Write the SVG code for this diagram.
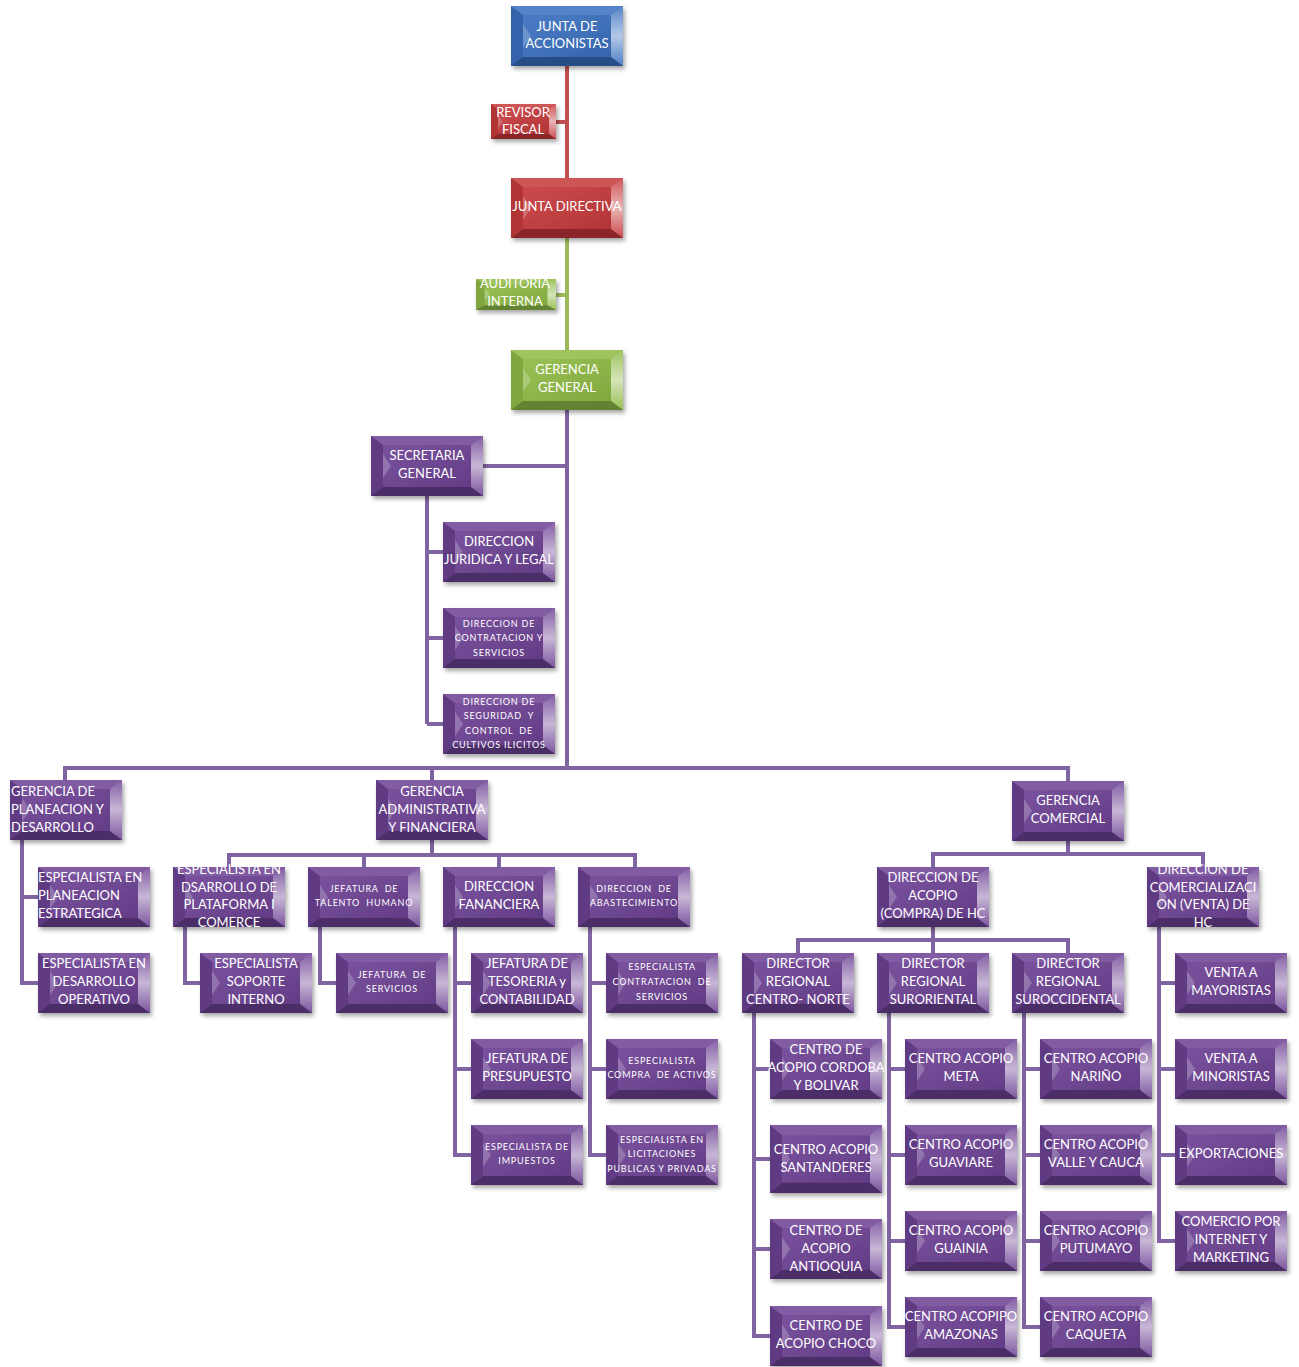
<svg xmlns="http://www.w3.org/2000/svg" xmlns:xlink="http://www.w3.org/1999/xlink" width="1299" height="1367" viewBox="0 0 1299 1367">
<style>
.bg{fill:#fff}
.c{fill:none;stroke-width:4;stroke-linejoin:miter}
.cr{stroke:#C0504D}.cg{stroke:#9BBB59}.cp{stroke:#8064A2}
.b{filter:url(#sh)}
.blue{color:#3A70BF}.red{color:#C63A3C}.green{color:#8FBA45}.pur{color:#6D4294}
.t{font-family:Lato,"Liberation Sans",sans-serif;font-size:13px;fill:#fff;text-anchor:middle}
.s{font-size:9px;letter-spacing:0.8px;white-space:pre}
.l{text-anchor:start}
</style>
<defs>
<filter id="sh" x="-10%" y="-10%" width="130%" height="140%">
<feDropShadow dx="2" dy="3" stdDeviation="2" flood-color="#000" flood-opacity="0.35"/>
</filter>
<linearGradient id="rg" x1="0" y1="0" x2="0" y2="1">
<stop offset="0" stop-color="#fff" stop-opacity="0.15"/>
<stop offset="0.5" stop-color="#fff" stop-opacity="0.62"/>
<stop offset="1" stop-color="#fff" stop-opacity="0.1"/>
</linearGradient>
<linearGradient id="fg" x1="0" y1="0" x2="1" y2="1">
<stop offset="0" stop-color="#fff" stop-opacity="0.08"/>
<stop offset="1" stop-color="#000" stop-opacity="0.1"/>
</linearGradient>
<symbol id="box" viewBox="0 0 112 60" preserveAspectRatio="none">
<rect x="0" y="0" width="112" height="60" fill="currentColor"/>
<rect x="12" y="9" width="88" height="42" fill="url(#fg)"/>
<polygon points="0,0 112,0 100,9 12,9" fill="#fff" fill-opacity="0.14"/>
<polygon points="0,60 112,60 100,51 12,51" fill="#000" fill-opacity="0.3"/>
<polygon points="0,0 12,9 12,51 0,60" fill="#000" fill-opacity="0.1"/>
<polygon points="12,18 20,30 12,42" fill="#fff" fill-opacity="0.22"/>
<polygon points="112,0 100,9 100,51 112,60" fill="url(#rg)"/>
</symbol>
</defs>
<rect class="bg" x="0" y="0" width="1299" height="1367"/>

<g id="connectors">
<path class="c cr" d="M567 66V178M556 122H567"/>
<path class="c cg" d="M567 238V350M556 295H567"/>
<path class="c cp" d="M567 410V768M483 466H567"/>
<path class="c cp" d="M427 496V724M427 552H443M427 638H443M427 724H443"/>
<path class="c cp" d="M65 780V768H1068V781M432 768V780"/>
<path class="c cp" d="M22 840V983H38M22 897H38"/>
<path class="c cp" d="M432 840V855M229 867V855H635V867M364 855V867M499 855V867"/>
<path class="c cp" d="M185 927V983H200"/>
<path class="c cp" d="M320 927V983H336"/>
<path class="c cp" d="M455 927V1155H471M455 983H471M455 1069H471"/>
<path class="c cp" d="M590 927V1155H606M590 983H606M590 1069H606"/>
<path class="c cp" d="M1068 841V854M933 867V854H1203V867"/>
<path class="c cp" d="M933 927V940M798 953V940H1068V953M933 940V953"/>
<path class="c cp" d="M754 1013V1336H770M754 1069H770M754 1159H770M754 1249H770"/>
<path class="c cp" d="M889 1013V1327H905M889 1069H905M889 1155H905M889 1241H905"/>
<path class="c cp" d="M1024 1013V1327H1040M1024 1069H1040M1024 1155H1040M1024 1241H1040"/>
<path class="c cp" d="M1159 927V1241H1175M1159 983H1175M1159 1069H1175M1159 1155H1175"/>
</g>

<g id="n-junta-accionistas"><use href="#box" class="b blue" x="511" y="6" width="112" height="60"/>
<text class="t" x="567" y="31">JUNTA DE</text><text class="t" x="567" y="48">ACCIONISTAS</text></g>
<g id="n-revisor-fiscal"><use href="#box" class="b red" x="491" y="104" width="65" height="35"/>
<text class="t" x="523" y="117">REVISOR</text><text class="t" x="523" y="134">FISCAL</text></g>
<g id="n-junta-directiva"><use href="#box" class="b red" x="511" y="178" width="112" height="60"/>
<text class="t" x="567" y="211">JUNTA DIRECTIVA</text></g>
<g id="n-auditoria"><use href="#box" class="b green" x="476" y="279" width="80" height="31"/>
<text class="t" x="515" y="288">AUDITORIA</text><text class="t" x="515" y="306">INTERNA</text></g>
<g id="n-gerencia-general"><use href="#box" class="b green" x="511" y="350" width="112" height="60"/>
<text class="t" x="567" y="374">GERENCIA</text><text class="t" x="567" y="392">GENERAL</text></g>

<g id="n-secretaria"><use href="#box" class="b pur" x="371" y="436" width="112" height="60"/>
<text class="t" x="427" y="460">SECRETARIA</text><text class="t" x="427" y="478">GENERAL</text></g>
<g id="n-juridica"><use href="#box" class="b pur" x="443" y="522" width="112" height="60"/>
<text class="t" x="499" y="546">DIRECCION</text><text class="t" x="499" y="564">JURIDICA Y LEGAL</text></g>
<g id="n-contratacion"><use href="#box" class="b pur" x="443" y="608" width="112" height="60"/>
<text class="t s" x="499" y="627">DIRECCION DE</text><text class="t s" x="499" y="641">CONTRATACION Y</text><text class="t s" x="499" y="656">SERVICIOS</text></g>
<g id="n-seguridad"><use href="#box" class="b pur" x="443" y="694" width="112" height="60"/>
<text class="t s" x="499" y="705">DIRECCION DE</text><text class="t s" x="499" y="719">SEGURIDAD  Y</text><text class="t s" x="499" y="734">CONTROL  DE</text><text class="t s" x="499" y="748">CULTIVOS ILICITOS</text></g>

<g id="n-planeacion"><use href="#box" class="b pur" x="10" y="780" width="112" height="60"/>
<text class="t l" x="11" y="796">GERENCIA DE</text><text class="t l" x="11" y="814">PLANEACION Y</text><text class="t l" x="11" y="832">DESARROLLO</text></g>
<g id="n-admin"><use href="#box" class="b pur" x="376" y="780" width="112" height="60"/>
<text class="t" x="432" y="796">GERENCIA</text><text class="t" x="432" y="814">ADMINISTRATIVA</text><text class="t" x="432" y="832">Y FINANCIERA</text></g>
<g id="n-comercial"><use href="#box" class="b pur" x="1012" y="781" width="112" height="60"/>
<text class="t" x="1068" y="805">GERENCIA</text><text class="t" x="1068" y="823">COMERCIAL</text></g>

<g id="n-esp-planeacion"><use href="#box" class="b pur" x="38" y="867" width="112" height="60"/>
<text class="t l" x="38" y="882">ESPECIALISTA EN</text><text class="t l" x="38" y="900">PLANEACION</text><text class="t l" x="38" y="918">ESTRATEGICA</text></g>
<g id="n-esp-desarrollo"><use href="#box" class="b pur" x="38" y="953" width="112" height="60"/>
<text class="t" x="94" y="968">ESPECIALISTA EN</text><text class="t" x="94" y="986">DESARROLLO</text><text class="t" x="94" y="1004">OPERATIVO</text></g>

<g id="n-esp-plataforma"><use href="#box" class="b pur" x="173" y="867" width="112" height="60"/>
<text class="t" x="229" y="874">ESPECIALISTA EN</text><text class="t" x="229" y="892">DSARROLLO DE</text><text class="t" x="229" y="909">PLATAFORMA I</text><text class="t" x="229" y="927">COMERCE</text></g>
<g id="n-esp-soporte"><use href="#box" class="b pur" x="200" y="953" width="112" height="60"/>
<text class="t" x="256" y="968">ESPECIALISTA</text><text class="t" x="256" y="986">SOPORTE</text><text class="t" x="256" y="1004">INTERNO</text></g>
<g id="n-talento"><use href="#box" class="b pur" x="308" y="867" width="112" height="60"/>
<text class="t s" x="364" y="892">JEFATURA  DE</text><text class="t s" x="364" y="906">TALENTO  HUMANO</text></g>
<g id="n-servicios"><use href="#box" class="b pur" x="336" y="953" width="112" height="60"/>
<text class="t s" x="392" y="978">JEFATURA  DE</text><text class="t s" x="392" y="992">SERVICIOS</text></g>
<g id="n-financiera"><use href="#box" class="b pur" x="443" y="867" width="112" height="60"/>
<text class="t" x="499" y="891">DIRECCION</text><text class="t" x="499" y="909">FANANCIERA</text></g>
<g id="n-tesoreria"><use href="#box" class="b pur" x="471" y="953" width="112" height="60"/>
<text class="t" x="527" y="968">JEFATURA DE</text><text class="t" x="527" y="986">TESORERIA y</text><text class="t" x="527" y="1004">CONTABILIDAD</text></g>
<g id="n-presupuesto"><use href="#box" class="b pur" x="471" y="1039" width="112" height="60"/>
<text class="t" x="527" y="1063">JEFATURA DE</text><text class="t" x="527" y="1081">PRESUPUESTO</text></g>
<g id="n-impuestos"><use href="#box" class="b pur" x="471" y="1125" width="112" height="60"/>
<text class="t s" x="527" y="1150">ESPECIALISTA DE</text><text class="t s" x="527" y="1164">IMPUESTOS</text></g>
<g id="n-abastecimiento"><use href="#box" class="b pur" x="578" y="867" width="112" height="60"/>
<text class="t s" x="634" y="892">DIRECCION  DE</text><text class="t s" x="634" y="906">ABASTECIMIENTO</text></g>
<g id="n-esp-contratacion"><use href="#box" class="b pur" x="606" y="953" width="112" height="60"/>
<text class="t s" x="662" y="970">ESPECIALISTA</text><text class="t s" x="662" y="985">CONTRATACION  DE</text><text class="t s" x="662" y="1000">SERVICIOS</text></g>
<g id="n-esp-activos"><use href="#box" class="b pur" x="606" y="1039" width="112" height="60"/>
<text class="t s" x="662" y="1064">ESPECIALISTA</text><text class="t s" x="662" y="1078">COMPRA  DE ACTIVOS</text></g>
<g id="n-esp-licitaciones"><use href="#box" class="b pur" x="606" y="1125" width="112" height="60"/>
<text class="t s" x="662" y="1143">ESPECIALISTA EN</text><text class="t s" x="662" y="1157">LICITACIONES</text><text class="t s" x="662" y="1172">PUBLICAS Y PRIVADAS</text></g>

<g id="n-acopio"><use href="#box" class="b pur" x="877" y="867" width="112" height="60"/>
<text class="t" x="933" y="882">DIRECCION DE</text><text class="t" x="933" y="900">ACOPIO</text><text class="t" x="933" y="918">(COMPRA) DE HC</text></g>
<g id="n-comercializacion"><use href="#box" class="b pur" x="1147" y="867" width="112" height="60"/>
<text class="t" x="1203" y="874">DIRECCION DE</text><text class="t" x="1203" y="892">COMERCIALIZACI</text><text class="t" x="1203" y="909">ON (VENTA) DE</text><text class="t" x="1203" y="927">HC</text></g>
<g id="n-centro-norte"><use href="#box" class="b pur" x="742" y="953" width="112" height="60"/>
<text class="t" x="798" y="968">DIRECTOR</text><text class="t" x="798" y="986">REGIONAL</text><text class="t" x="798" y="1004">CENTRO- NORTE</text></g>
<g id="n-suroriental"><use href="#box" class="b pur" x="877" y="953" width="112" height="60"/>
<text class="t" x="933" y="968">DIRECTOR</text><text class="t" x="933" y="986">REGIONAL</text><text class="t" x="933" y="1004">SURORIENTAL</text></g>
<g id="n-suroccidental"><use href="#box" class="b pur" x="1012" y="953" width="112" height="60"/>
<text class="t" x="1068" y="968">DIRECTOR</text><text class="t" x="1068" y="986">REGIONAL</text><text class="t" x="1068" y="1004">SUROCCIDENTAL</text></g>

<g id="n-mayoristas"><use href="#box" class="b pur" x="1175" y="953" width="112" height="60"/>
<text class="t" x="1231" y="977">VENTA A</text><text class="t" x="1231" y="995">MAYORISTAS</text></g>
<g id="n-minoristas"><use href="#box" class="b pur" x="1175" y="1039" width="112" height="60"/>
<text class="t" x="1231" y="1063">VENTA A</text><text class="t" x="1231" y="1081">MINORISTAS</text></g>
<g id="n-exportaciones"><use href="#box" class="b pur" x="1175" y="1125" width="112" height="60"/>
<text class="t" x="1231" y="1158">EXPORTACIONES</text></g>
<g id="n-internet"><use href="#box" class="b pur" x="1175" y="1211" width="112" height="60"/>
<text class="t" x="1231" y="1226">COMERCIO POR</text><text class="t" x="1231" y="1244">INTERNET Y</text><text class="t" x="1231" y="1262">MARKETING</text></g>

<g id="n-cordoba"><use href="#box" class="b pur" x="770" y="1039" width="112" height="60"/>
<text class="t" x="826" y="1054">CENTRO DE</text><text class="t" x="826" y="1072">ACOPIO CORDOBA</text><text class="t" x="826" y="1090">Y BOLIVAR</text></g>
<g id="n-santanderes"><use href="#box" class="b pur" x="770" y="1125" width="112" height="68"/>
<text class="t" x="826" y="1154">CENTRO ACOPIO</text><text class="t" x="826" y="1172">SANTANDERES</text></g>
<g id="n-antioquia"><use href="#box" class="b pur" x="770" y="1219" width="112" height="60"/>
<text class="t" x="826" y="1235">CENTRO DE</text><text class="t" x="826" y="1253">ACOPIO</text><text class="t" x="826" y="1271">ANTIOQUIA</text></g>
<g id="n-choco"><use href="#box" class="b pur" x="770" y="1306" width="112" height="60"/>
<text class="t" x="826" y="1330">CENTRO DE</text><text class="t" x="826" y="1348">ACOPIO CHOCO</text></g>

<g id="n-meta"><use href="#box" class="b pur" x="905" y="1039" width="112" height="60"/>
<text class="t" x="961" y="1063">CENTRO ACOPIO</text><text class="t" x="961" y="1081">META</text></g>
<g id="n-guaviare"><use href="#box" class="b pur" x="905" y="1125" width="112" height="60"/>
<text class="t" x="961" y="1149">CENTRO ACOPIO</text><text class="t" x="961" y="1167">GUAVIARE</text></g>
<g id="n-guainia"><use href="#box" class="b pur" x="905" y="1211" width="112" height="60"/>
<text class="t" x="961" y="1235">CENTRO ACOPIO</text><text class="t" x="961" y="1253">GUAINIA</text></g>
<g id="n-amazonas"><use href="#box" class="b pur" x="905" y="1297" width="112" height="60"/>
<text class="t" x="961" y="1321">CENTRO ACOPIPO</text><text class="t" x="961" y="1339">AMAZONAS</text></g>

<g id="n-narino"><use href="#box" class="b pur" x="1040" y="1039" width="112" height="60"/>
<text class="t" x="1096" y="1063">CENTRO ACOPIO</text><text class="t" x="1096" y="1081">NARIÑO</text></g>
<g id="n-valle"><use href="#box" class="b pur" x="1040" y="1125" width="112" height="60"/>
<text class="t" x="1096" y="1149">CENTRO ACOPIO</text><text class="t" x="1096" y="1167">VALLE Y CAUCA</text></g>
<g id="n-putumayo"><use href="#box" class="b pur" x="1040" y="1211" width="112" height="60"/>
<text class="t" x="1096" y="1235">CENTRO ACOPIO</text><text class="t" x="1096" y="1253">PUTUMAYO</text></g>
<g id="n-caqueta"><use href="#box" class="b pur" x="1040" y="1297" width="112" height="60"/>
<text class="t" x="1096" y="1321">CENTRO ACOPIO</text><text class="t" x="1096" y="1339">CAQUETA</text></g>
</svg>
